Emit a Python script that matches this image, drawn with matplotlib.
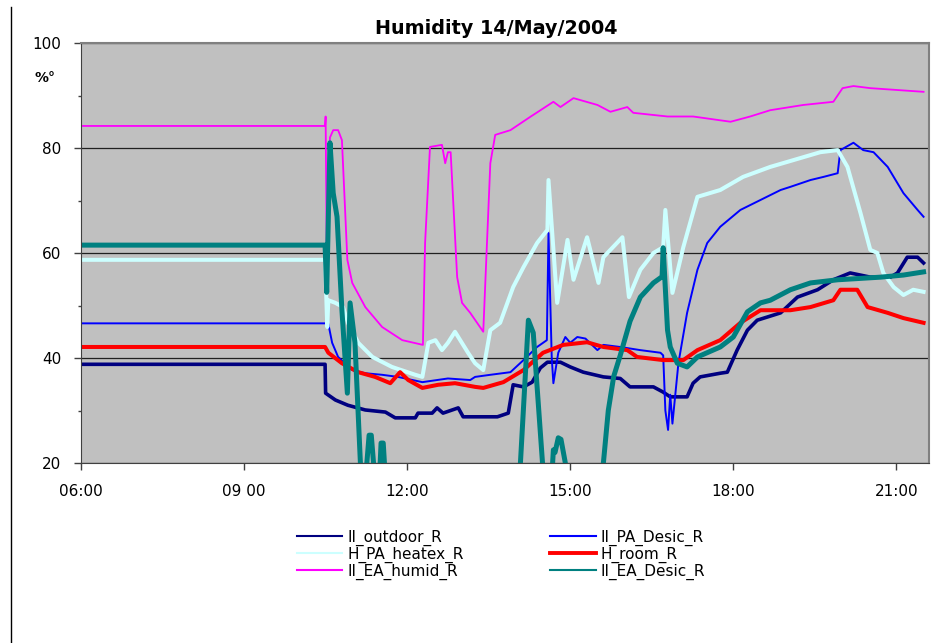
import matplotlib as mpl
mpl.use("Agg")
import numpy as np
import matplotlib.pyplot as plt
from matplotlib.lines import Line2D

# time in decimal hours, values in %
outdoor_t = [6.0, 10.49, 10.50, 10.68, 10.91, 11.23, 11.60, 11.78, 12.15, 12.20, 12.46, 12.55, 12.66,
             12.94, 13.03, 13.66, 13.86, 13.95, 14.14, 14.30, 14.45, 14.58, 14.82, 15.00, 15.24, 15.61,
             15.92, 16.10, 16.53, 16.71, 16.84, 17.15, 17.26, 17.39, 17.76, 17.89, 18.07, 18.26, 18.44,
             18.87, 19.18, 19.55, 19.84, 20.15, 20.52, 20.89, 21.02, 21.20, 21.39, 21.50]
outdoor_v = [38.8, 38.8, 33.3, 32.0, 31.0, 30.1, 29.7, 28.6, 28.6, 29.5, 29.5, 30.5, 29.5,
             30.5, 28.8, 28.8, 29.5, 34.9, 34.5, 35.4, 38.1, 39.2, 39.2, 38.3, 37.3, 36.4,
             36.1, 34.5, 34.5, 33.5, 32.6, 32.6, 35.2, 36.4, 37.1, 37.3, 41.5, 45.3, 47.2,
             48.6, 51.6, 53.0, 54.9, 56.2, 55.4, 55.4, 56.2, 59.2, 59.2, 58.1]

pa_desic_t = [6.0, 10.49, 10.55, 10.62, 10.73, 10.99, 11.23, 11.54, 11.83, 12.28, 12.75, 13.16, 13.25,
              13.53, 13.90, 14.14, 14.39, 14.57, 14.60, 14.66, 14.69, 14.78, 14.91, 15.00, 15.13, 15.28,
              15.50, 15.61, 15.92, 16.29, 16.66, 16.71, 16.75, 16.80, 16.84, 16.88, 16.99, 17.15, 17.34,
              17.52, 17.76, 18.13, 18.50, 18.87, 19.05, 19.42, 19.66, 19.92, 19.97, 20.21, 20.39, 20.58,
              20.84, 21.13, 21.39, 21.50]
pa_desic_v = [46.6, 46.6, 46.5, 42.9, 40.2, 37.7, 37.1, 36.8, 36.4, 35.4, 36.1, 35.8, 36.4,
              36.8, 37.3, 39.6, 42.1, 43.4, 63.8, 40.0, 35.2, 41.0, 44.0, 42.9, 44.0, 43.7,
              41.5, 42.5, 42.1, 41.5, 41.0, 40.5, 30.0, 26.3, 33.0, 27.5, 39.0, 48.6, 56.8,
              61.9, 65.0, 68.2, 70.1, 72.0, 72.6, 73.9, 74.5, 75.2, 79.6, 81.0, 79.6, 79.2,
              76.4, 71.4, 68.2, 66.9]

heatex_t = [6.0, 10.49, 10.53, 10.55, 10.68, 10.82, 10.91, 11.10, 11.36, 11.72, 12.15, 12.28, 12.39,
            12.52, 12.64, 12.75, 12.88, 13.12, 13.25, 13.40, 13.53, 13.71, 13.95, 14.14, 14.39, 14.58,
            14.60, 14.76, 14.95, 15.06, 15.31, 15.52, 15.61, 15.96, 16.08, 16.29, 16.53, 16.71, 16.75,
            16.88, 17.08, 17.34, 17.76, 18.18, 18.68, 19.60, 19.92, 20.10, 20.34, 20.52, 20.65, 20.76,
            20.95, 21.13, 21.31, 21.50]
heatex_v = [58.7, 58.7, 45.9, 51.0, 50.5, 49.7, 46.7, 42.9, 40.2, 38.3, 36.8, 36.4, 42.9,
            43.4, 41.5, 42.9, 45.0, 41.0, 39.0, 37.7, 45.3, 46.7, 53.5, 57.3, 61.9, 64.4,
            73.9, 50.5, 62.5, 54.9, 63.0, 54.3, 59.2, 63.0, 51.6, 56.8, 60.0, 61.1, 68.2,
            52.4, 61.1, 70.7, 72.0, 74.5, 76.4, 79.2, 79.6, 76.4, 67.6, 60.6, 60.0, 56.2,
            53.5, 52.0, 53.0, 52.6]

room_t = [6.0, 10.49, 10.55, 10.80, 11.10, 11.41, 11.69, 11.87, 12.02, 12.28, 12.57, 12.88, 13.25,
          13.40, 13.77, 14.14, 14.50, 14.87, 15.31, 15.61, 16.05, 16.23, 16.71, 17.08, 17.34, 17.76,
          18.13, 18.50, 18.68, 19.05, 19.42, 19.84, 19.97, 20.28, 20.47, 20.84, 21.13, 21.50]
room_v = [42.1, 42.1, 41.0, 39.0, 37.3, 36.4, 35.2, 37.3, 35.8, 34.3, 34.9, 35.2, 34.5,
          34.3, 35.4, 37.7, 41.0, 42.5, 43.0, 42.1, 41.5, 40.2, 39.6, 39.6, 41.5, 43.4,
          46.7, 49.1, 49.1, 49.1, 49.7, 51.0, 53.0, 53.0, 49.7, 48.6, 47.6, 46.7]

ea_humid_t = [6.0, 10.49, 10.50, 10.52, 10.58, 10.64, 10.73, 10.80, 10.90, 10.99, 11.23, 11.54, 11.91,
              12.29, 12.33, 12.42, 12.64, 12.70, 12.75, 12.80, 12.92, 13.01, 13.16, 13.40, 13.53, 13.62,
              13.90, 14.26, 14.69, 14.82, 15.06, 15.50, 15.74, 16.05, 16.16, 16.79, 17.26, 17.95, 18.31,
              18.68, 19.29, 19.84, 20.01, 20.21, 20.52, 21.50]
ea_humid_v = [84.2, 84.2, 86.0, 60.0, 82.0, 83.4, 83.4, 81.5, 58.7, 54.3, 49.7, 45.9, 43.4,
              42.5, 61.9, 80.2, 80.6, 77.1, 79.2, 79.2, 55.4, 50.5, 48.6, 45.0, 77.1, 82.5,
              83.4, 85.9, 88.8, 87.8, 89.5, 88.2, 86.9, 87.8, 86.7, 86.0, 86.0, 85.0, 86.0,
              87.2, 88.2, 88.8, 91.4, 91.8, 91.4, 90.7]

ea_desic_t = [6.0, 10.49, 10.52, 10.58, 10.64, 10.71, 10.80, 10.90, 10.95, 11.04, 11.14, 11.18, 11.30,
              11.34, 11.46, 11.52, 11.56, 11.64, 12.50, 14.03, 14.23, 14.32, 14.49, 14.55, 14.62, 14.69,
              14.72, 14.78, 14.83, 14.91, 14.97, 15.50, 15.61, 15.70, 15.80, 15.92, 16.10, 16.29, 16.53,
              16.69, 16.71, 16.79, 16.84, 16.97, 17.15, 17.34, 17.76, 18.00, 18.26, 18.50, 18.68, 19.05,
              19.42, 19.92, 20.71, 21.13, 21.50]
ea_desic_v = [61.5, 61.5, 52.5, 81.0, 71.4, 66.9, 49.1, 33.3, 50.5, 42.9, 20.0, 10.0, 25.3,
              25.3, 10.0, 23.8, 23.8, 10.0, 5.0, 10.0, 47.2, 44.8, 20.0, 10.0, 10.0, 22.5,
              22.0, 24.8, 24.5, 20.0, 10.0, 5.0, 20.0, 30.0, 36.5, 40.5, 47.0, 51.6, 54.3,
              55.5, 61.0, 45.3, 42.1, 39.0, 38.3, 40.2, 42.1, 44.0, 48.8, 50.5, 51.0, 53.0,
              54.3, 54.9, 55.4, 55.8, 56.4]

labels = ["II_outdoor_R", "II_PA_Desic_R", "H_PA_heatex_R", "H_room_R", "II_EA_humid_R", "II_EA_Desic_R"]
colors = ["#000080", "#0000FF", "#CCFFFF", "#FF0000", "#FF00FF", "#008080"]
widths = [2.6, 1.4, 2.9, 2.9, 1.3, 3.6]

xticks = [6, 9, 12, 15, 18, 21]
xticklabels = ["06:00", "09 00", "12:00", "15:00", "18:00", "21:00"]
yticks = [20, 40, 60, 80, 100]

fig = plt.figure(figsize=(9.5, 6.43), dpi=100)
ax = fig.add_axes([81/950, 1-463/643, 848/950, 420/643])
ax.set_facecolor("#C0C0C0")

series = [(outdoor_t, outdoor_v), (pa_desic_t, pa_desic_v), (heatex_t, heatex_v),
          (room_t, room_v), (ea_humid_t, ea_humid_v), (ea_desic_t, ea_desic_v)]
for (t, v), c, w in zip(series, colors, widths):
    ax.plot(t, v, color=c, lw=w, solid_joinstyle="round")

ax.set_xlim(6, 21.6)
ax.set_ylim(20, 100)
ax.set_xticks(xticks)
ax.set_xticklabels(xticklabels)
ax.set_yticks(yticks)
ax.set_yticks([30, 50, 70, 90], minor=True)
ax.tick_params(axis="both", which="major", direction="out", length=5, width=1, labelsize=11, color="#404040")
ax.tick_params(axis="y", which="minor", direction="out", length=2.5, width=1, color="#404040")
ax.tick_params(axis="y", pad=9)
ax.tick_params(axis="x", pad=10)
ax.grid(axis="y", which="major", color="#202020", lw=0.9)
ax.set_axisbelow(True)
for s in ["left", "bottom"]:
    ax.spines[s].set_color("#404040")
for s in ["top", "right"]:
    ax.spines[s].set_color("#808080")
    ax.spines[s].set_linewidth(1.5)

fig.text(496/950, 1-28/643, "Humidity 14/May/2004", ha="center", va="center", fontsize=13.8, fontweight="bold")
fig.text(45/950, 1-78/643, "%°", ha="center", va="center", fontsize=10, fontweight="bold")

# border line on the left side of the picture
fig.add_artist(Line2D([11/950, 11/950], [0, 1-7/643], color="black", lw=1))

# legend: column-first order
order = [0, 2, 4, 1, 3, 5]
handles = [Line2D([], [], color=colors[i], lw=(2.8 if i == 3 else 1.5)) for i in order]
ax.legend(handles, [labels[i] for i in order], ncol=2, loc="upper center",
          bbox_to_anchor=(501/950, 1-522/643), bbox_transform=fig.transFigure,
          frameon=False, fontsize=11, handlelength=3.0, handletextpad=0.35,
          columnspacing=5.6, labelspacing=0.05, borderpad=0)

fig.savefig("out.png", dpi=100)
